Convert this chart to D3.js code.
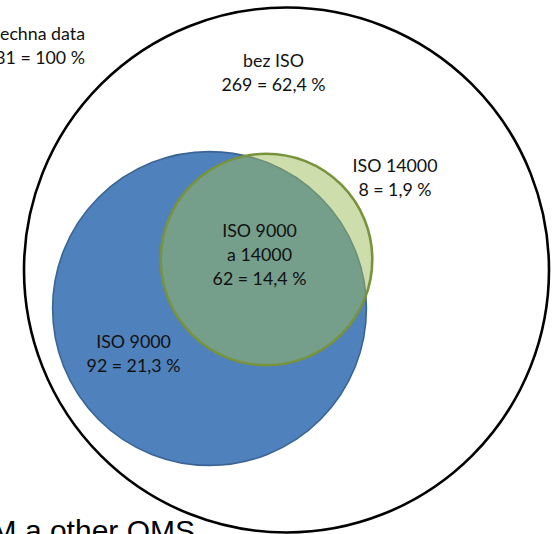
<!DOCTYPE html>
<html><head><meta charset="utf-8">
<script src="https://cdn.jsdelivr.net/npm/d3@7"></script>
<style>html,body{margin:0;padding:0;background:#fff;overflow:hidden}</style>
</head><body>
<svg id="c" width="552" height="534"></svg>
<script>
// Data
const sets = ["Všechna data", "ISO 9000", "ISO 14000"];
const setTotals = [431, 154, 70];          // total, ISO 9000 (92+62), ISO 14000 (62+8)
const regions = ["Všechna data", "bez ISO", "ISO 14000", "ISO 9000 a 14000", "ISO 9000"];
const regionCounts = [431, 269, 8, 62, 92];
const regionPercents = ["100", "62,4", "1,9", "14,4", "21,3"];
const footer = "M a other QMS";

// Layout
const W = 552, H = 534;
const svg = d3.select("#c");
const r = d3.scaleSqrt().domain([0, 431]).range([0, 262.5]);
const centers = [[286.5, 270], [209.5, 308.5], [266.5, 259.5]];
const styles = [
  {fill: "none", stroke: "#000", sw: 2.6, op: 1},
  {fill: "#4F81BD", stroke: "#3A6494", sw: 1.6, op: 1},
  {fill: "#9BBB59", stroke: "#77933C", sw: 2.6, op: 0.5}
];

svg.selectAll("circle.set").data(sets).join("circle")
  .attr("class", "set")
  .attr("cx", (d, i) => centers[i][0])
  .attr("cy", (d, i) => centers[i][1])
  .attr("r", (d, i) => r(setTotals[i]))
  .attr("fill", (d, i) => styles[i].fill)
  .attr("fill-opacity", (d, i) => styles[i].op)
  .attr("stroke", (d, i) => styles[i].stroke)
  .attr("stroke-width", (d, i) => styles[i].sw);

// Labels
const font = "Lato, 'Open Sans', sans-serif";
const labelPos = [
  {x: 85, y: 40, anchor: "end"},
  {x: 273.5, y: 67, anchor: "middle"},
  {x: 395, y: 172, anchor: "middle"},
  {x: 259.5, y: 237, anchor: "middle"},
  {x: 133.5, y: 348, anchor: "middle"}
];
regions.forEach((name, i) => {
  const p = labelPos[i];
  const lines = name === "ISO 9000 a 14000" ? ["ISO 9000", "a 14000"] : [name];
  lines.push(regionCounts[i] + " = " + regionPercents[i] + " %");
  const t = svg.append("text")
    .attr("font-family", font)
    .attr("font-size", 17.8)
    .attr("fill", "#111")
    .attr("text-anchor", p.anchor);
  lines.forEach((ln, j) => {
    t.append("tspan").attr("x", p.x).attr("y", p.y + j * 24).text(ln);
  });
});

svg.append("text")
  .attr("x", 195).attr("y", 541)
  .attr("text-anchor", "end")
  .attr("font-family", "'Liberation Sans', Arial, sans-serif")
  .attr("font-size", 30)
  .attr("fill", "#000")
  .text(footer);
</script>
</body></html>
